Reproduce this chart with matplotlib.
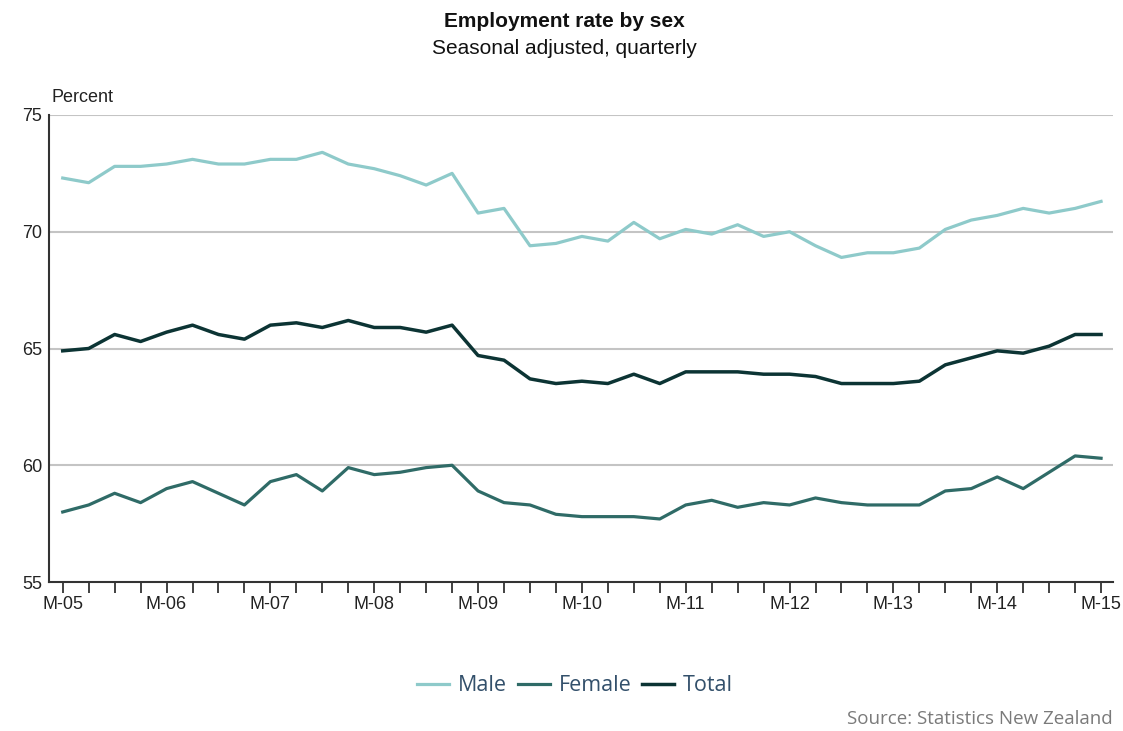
import numpy as np
import matplotlib.pyplot as plt

# quarterly employment rate, March 2005 to March 2015
male = [72.3, 72.1, 72.8, 72.8, 72.9, 73.1, 72.9, 72.9, 73.1, 73.1, 73.4,
        72.9, 72.7, 72.4, 72.0, 72.5, 70.8, 71.0, 69.4, 69.5, 69.8, 69.6,
        70.4, 69.7, 70.1, 69.9, 70.3, 69.8, 70.0, 69.4, 68.9, 69.1, 69.1,
        69.3, 70.1, 70.5, 70.7, 71.0, 70.8, 71.0, 71.3]
female = [58.0, 58.3, 58.8, 58.4, 59.0, 59.3, 58.8, 58.3, 59.3, 59.6, 58.9,
          59.9, 59.6, 59.7, 59.9, 60.0, 58.9, 58.4, 58.3, 57.9, 57.8, 57.8,
          57.8, 57.7, 58.3, 58.5, 58.2, 58.4, 58.3, 58.6, 58.4, 58.3, 58.3,
          58.3, 58.9, 59.0, 59.5, 59.0, 59.7, 60.4, 60.3]
total = [64.9, 65.0, 65.6, 65.3, 65.7, 66.0, 65.6, 65.4, 66.0, 66.1, 65.9,
         66.2, 65.9, 65.9, 65.7, 66.0, 64.7, 64.5, 63.7, 63.5, 63.6, 63.5,
         63.9, 63.5, 64.0, 64.0, 64.0, 63.9, 63.9, 63.8, 63.5, 63.5, 63.5,
         63.6, 64.3, 64.6, 64.9, 64.8, 65.1, 65.6, 65.6]
year_labels = ['M-05', 'M-06', 'M-07', 'M-08', 'M-09', 'M-10',
               'M-11', 'M-12', 'M-13', 'M-14', 'M-15']
y_ticks = [55, 60, 65, 70, 75]

plt.rcParams['font.family'] = ['Liberation Sans', 'DejaVu Sans']

x = np.arange(len(male))

fig = plt.figure(figsize=(11.23, 7.31), dpi=100)
ax = fig.add_axes([0.0436, 0.2038, 0.9475, 0.6389])

ax.plot(x, male, color='#8ecaca', lw=2.3, label='Male', zorder=3)
ax.plot(x, female, color='#2f6b67', lw=2.3, label='Female', zorder=3)
ax.plot(x, total, color='#0c3434', lw=2.5, label='Total', zorder=3)

ax.set_xlim(-0.53, 40.46)
ax.set_ylim(55, 75)
ax.set_yticks(y_ticks)
ax.set_xticks(x)
ax.set_xticklabels([year_labels[i // 4] if i % 4 == 0 else '' for i in x])

for v in y_ticks[1:]:
    ax.axhline(v, color='#c4c4c4', lw=1.5, zorder=1)

for s in ['top', 'right']:
    ax.spines[s].set_visible(False)
for s in ['left', 'bottom']:
    ax.spines[s].set_color('#333333')
    ax.spines[s].set_linewidth(1.5)

ax.tick_params(axis='x', length=8, width=1.3, color='#333333',
               labelsize=13, pad=2, labelcolor='#222222')
ax.tick_params(axis='y', length=0, labelsize=13, pad=5, labelcolor='#222222')

fig.text(0.0463, 0.867, 'Percent', fontsize=13, color='#222222',
         ha='left', va='center')
fig.text(0.503, 0.970, 'Employment rate by sex', fontsize=15,
         fontweight='bold', ha='center', va='center', color='#111111')
fig.text(0.503, 0.933, 'Seasonal adjusted, quarterly', fontsize=15,
         ha='center', va='center', color='#111111')

leg = fig.legend(loc='center', bbox_to_anchor=(0.512, 0.062), ncol=3,
                 frameon=False, handlelength=1.5, handletextpad=0.4,
                 columnspacing=0.5,
                 prop={'family': 'Open Sans', 'size': 15.5})
for t in leg.get_texts():
    t.set_color('#33506b')

fig.text(0.991, 0.016, 'Source: Statistics New Zealand', fontsize=13.5,
         family='Open Sans', color='#7a7a7a', ha='right', va='center')

fig.savefig('out.png', dpi=100)
